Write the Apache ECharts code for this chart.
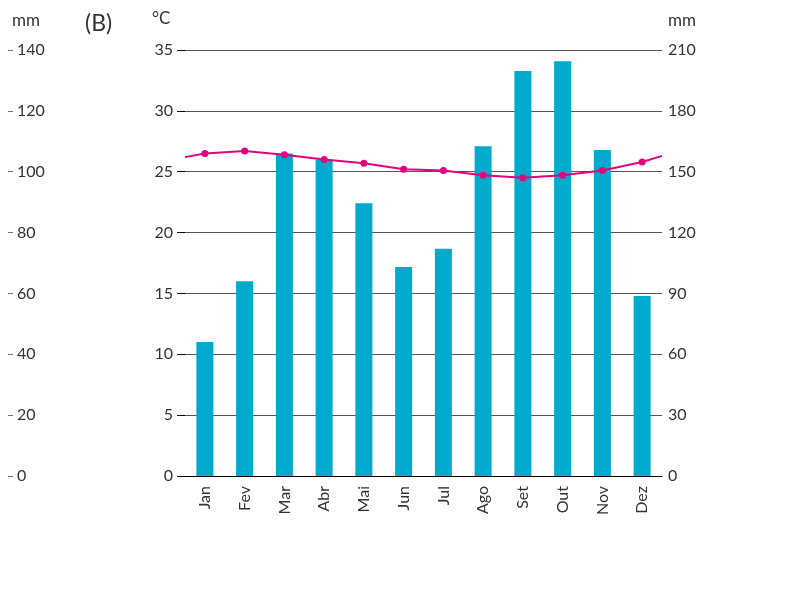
<!DOCTYPE html>
<html>
<head>
<meta charset="utf-8">
<script src="https://cdn.jsdelivr.net/npm/echarts@6/dist/echarts.min.js"></script>
<style>html,body{margin:0;background:#fff}#c{width:792px;height:592px}</style>
</head>
<body>
<div id="c"></div>
<script>
var months = ['Jan','Fev','Mar','Abr','Mai','Jun','Jul','Ago','Set','Out','Nov','Dez'];
var rainMm = [66, 96, 159, 156, 134.5, 103, 112, 162.6, 199.6, 204.5, 160.7, 88.7];
var tempC = [26.5, 26.7, 26.4, 26.0, 25.7, 25.2, 25.1, 24.7, 24.5, 24.7, 25.1, 25.8];
var tempEdgeStart = 26.2, tempEdgeEnd = 26.3;

var txt = '#333';
var font = 'Lato';

var lineData = [{value: [0, tempEdgeStart], symbol: 'none'}];
tempC.forEach(function (t, i) { lineData.push([i + 0.5, t]); });
lineData.push({value: [12, tempEdgeEnd], symbol: 'none'});

var chart = echarts.init(document.getElementById('c'));
chart.setOption({
  animation: false,
  textStyle: {fontFamily: font},
  grid: {left: 185, right: 130, top: 50, bottom: 116},
  graphic: [
    {type: 'text', left: 12, top: 12, style: {text: 'mm', fontSize: 17, fill: txt, fontFamily: font}},
    {type: 'text', left: 85, top: 12, style: {text: '(B)', fontSize: 23, fill: txt, fontFamily: font}},
    {type: 'text', left: 152, top: 10, style: {text: '°C', fontSize: 17, fill: txt, fontFamily: font}},
    {type: 'text', left: 668, top: 12, style: {text: 'mm', fontSize: 17, fill: txt, fontFamily: font}}
  ],
  xAxis: [{
    type: 'category', data: months,
    axisLine: {lineStyle: {color: '#000'}},
    axisTick: {length: 8, lineStyle: {color: '#000'}},
    axisLabel: {rotate: 90, color: txt, fontSize: 16, margin: 10}
  }, {
    type: 'value', min: 0, max: 12, show: false
  }],
  yAxis: [{
    type: 'value', min: 0, max: 35, interval: 5,
    axisLine: {show: false},
    axisTick: {show: true, inside: false, length: 8, lineStyle: {color: '#000'}},
    axisLabel: {color: txt, fontSize: 16, margin: 12},
    splitLine: {lineStyle: {color: '#555', width: 1}}
  }, {
    type: 'value', min: 0, max: 210, interval: 30, position: 'right',
    axisLine: {show: false},
    axisTick: {show: false},
    axisLabel: {color: txt, fontSize: 16, margin: 6},
    splitLine: {show: false}
  }, {
    type: 'value', min: 0, max: 140, interval: 20, position: 'left', offset: 177,
    axisLine: {show: false},
    axisTick: {show: true, inside: true, length: 5, lineStyle: {color: '#777'}},
    axisLabel: {inside: true, color: txt, fontSize: 16, margin: 9},
    splitLine: {show: false}
  }],
  series: [{
    type: 'bar', data: rainMm, yAxisIndex: 1, barWidth: 17,
    itemStyle: {color: '#00aacc'}
  }, {
    type: 'line', data: lineData, xAxisIndex: 1, yAxisIndex: 0,
    symbol: 'circle', symbolSize: 7,
    lineStyle: {color: '#e5007e', width: 2},
    itemStyle: {color: '#e5007e'}
  }]
});
</script>
</body>
</html>
